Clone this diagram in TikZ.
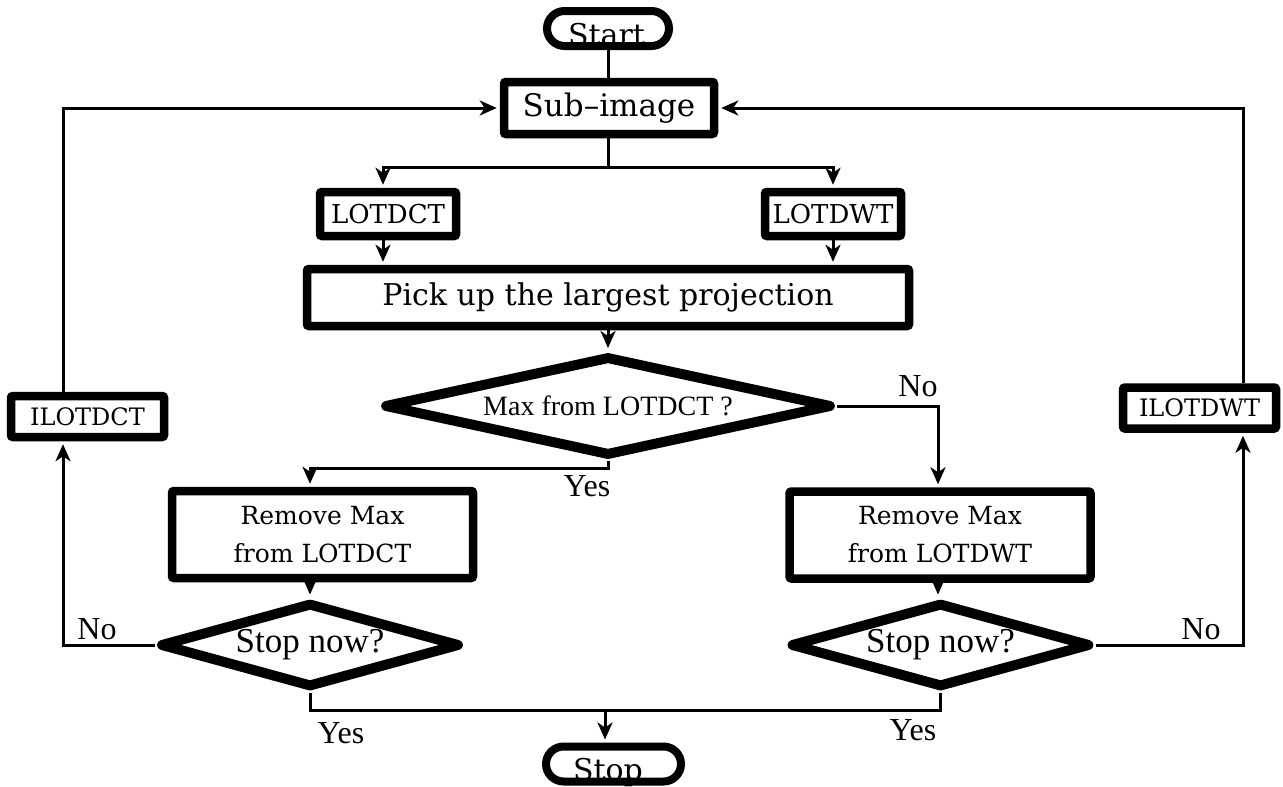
\documentclass[tikz,border=0pt]{standalone}
\usepackage{fontspec}
\setmainfont{Liberation Serif}
\newfontfamily\wideserif{DejaVu Serif}
\usetikzlibrary{shapes.geometric,shapes.misc,arrows.meta,calc}
\begin{document}
\begin{tikzpicture}[x=1pt,y=-1pt,
  line width=3pt,
  arr/.style={-{Stealth[length=17pt,width=15pt,inset=5pt]}, shorten >=3pt},
  box/.style={draw, line width=8.5pt, rounded corners=2pt, inner sep=0pt, align=center},
  term/.style={draw, rounded rectangle, line width=8pt, inner sep=0pt},
  dec/.style={draw, diamond, line width=10pt, line join=round, inner sep=0pt, aspect=4.5},
  lbl/.style={font=\fontsize{32}{32}\selectfont, inner sep=0pt},
  wfont/.style={font=\wideserif\fontsize{#1}{#1}\selectfont},
  tfont/.style={font=\fontsize{#1}{#1}\selectfont},
]
\useasboundingbox (0,0) rectangle (1283,787);

% terminals
\node[term, minimum width=122pt, minimum height=35pt] (start) at (608,28.5) {};
\node[wfont=30, anchor=base, inner sep=0pt] (startlbl) at (606.5,45) {Start};
\node[term, minimum width=135pt, minimum height=35pt] (stop) at (613.5,764) {};
\node[wfont=30, anchor=base, inner sep=0pt] (stoplbl) at (608,780) {Stop};

% boxes
\node[box, wfont=31, minimum width=210pt, minimum height=52pt] (sub) at (609,108) {Sub–image};
\node[box, wfont=26, minimum width=136pt, minimum height=44pt] (lotdct) at (388,214) {LOTDCT};
\node[box, wfont=26, minimum width=136pt, minimum height=44pt] (lotdwt) at (833,214) {LOTDWT};
\node[box, wfont=30, minimum width=602pt, minimum height=57pt] (pick) at (608,297.5) {Pick up the largest projection};
\node[dec, tfont=28, minimum width=448pt, minimum height=100pt] (maxd) at (608,406) {Max from LOTDCT ?};
\node[box, font=\wideserif\fontsize{25}{38}\selectfont, minimum width=301pt, minimum height=87pt] (rmL) at (322.5,534.5) {Remove Max\\from LOTDCT};
\node[box, font=\wideserif\fontsize{25}{38}\selectfont, minimum width=301pt, minimum height=87pt] (rmR) at (940,535) {Remove Max\\from LOTDWT};
\node[dec, tfont=35, minimum width=300pt, minimum height=85pt] (stopL) at (310,645) {Stop now?};
\node[dec, tfont=35, minimum width=300pt, minimum height=85pt] (stopR) at (940.5,645) {Stop now?};
\node[box, wfont=24, minimum width=153pt, minimum height=41pt] (ilotdct) at (87.5,416.5) {ILOTDCT};
\node[box, wfont=24, minimum width=153pt, minimum height=41pt] (ilotdwt) at (1199.5,408) {ILOTDWT};

% connectors
\draw (start.south) -- (start.south |- sub.north);
\coordinate (split) at (608,167);
\draw (sub.south -| split) -- (split);
\draw[arr] (split) -| ([xshift=-5pt]lotdct.north);
\draw[arr] (split) -| (lotdwt.north);
\draw[arr] ([xshift=-5pt]lotdct.south) -- ([xshift=-5pt]lotdct.south |- pick.north);
\draw[arr] (lotdwt.south) -- (lotdwt.south |- pick.north);
\draw[arr] (pick.south) -- (maxd.north);
\draw[arr] (maxd.south) -- ++(0,7) -| ([xshift=-12.5pt]rmL.north);
\draw[arr] (maxd.east) -| ([xshift=-2pt]rmR.north);
\draw[arr] ([xshift=-12.5pt]rmL.south) -- ([xshift=-12.5pt]rmL.south |- stopL.north);
\draw[arr] ([xshift=-2pt]rmR.south) -- ([xshift=-2pt]rmR.south |- stopR.north);
\draw[arr] (stopL.west) -| ([xshift=-24.5pt]ilotdct.south);
\draw[arr] (stopR.east) -| ([xshift=43.5pt]ilotdwt.south);
\draw[arr] ([xshift=-24.5pt]ilotdct.north) |- (sub.west);
\draw[arr] ([xshift=43.5pt]ilotdwt.north) |- (sub.east);
\draw (stopL.south) -- ++(0,17.5) -| (stopR.south);
\coordinate (yj) at (605,710);
\draw[arr] (yj) -- (yj |- stop.north);

% labels
\node[lbl] (yes1) at (587,486) {Yes};
\node[lbl] (no1) at (918,386) {No};
\node[lbl] (no2) at (97,629) {No};
\node[lbl] (yes2) at (341,733) {Yes};
\node[lbl] (yes3) at (913,730) {Yes};
\node[lbl] (no3) at (1201,629) {No};
\end{tikzpicture}
\end{document}
